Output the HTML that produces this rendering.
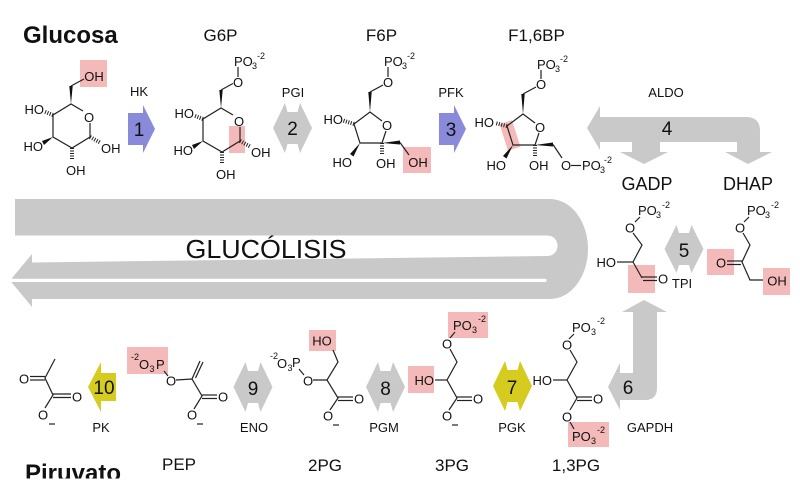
<!DOCTYPE html>
<html><head><meta charset="utf-8">
<style>
html,body{margin:0;padding:0;background:#fff;}
svg{display:block;}
text{font-family:"Liberation Sans",Arial,sans-serif;fill:#111;}
.b{stroke:#222;stroke-width:1.2;fill:none;}
.h{stroke:#222;stroke-width:4;stroke-dasharray:1 1.5;fill:none;}
.m{font-size:13px;}
.s{font-size:9px;}
.e{font-size:13px;}
.n{font-size:19px;}
.t{font-size:17px;}
</style></head><body>
<svg width="800" height="500" viewBox="0 0 800 500" xmlns="http://www.w3.org/2000/svg">
<defs><clipPath id="cp"><rect x="0" y="440" width="200" height="38.5"/></clipPath></defs>

<!-- Big U arrow -->
<path d="M15,199 H550 A38,50 0 0 1 550,299 H32 V236 H15 Z" fill="#c9c9c9"/>
<path d="M0,235.5 L547,235.5 C561,235.5 561,256 547,256 L32,262.5 L0,262.5 Z" fill="#fff"/>
<polygon points="32,254 10,280.5 32,307" fill="#c9c9c9"/>
<path d="M10,278.8 H545 A1.6,1.6 0 0 1 545,282 H10 Z" fill="#fff"/>
<text x="266" y="258" text-anchor="middle" font-size="26" textLength="161" lengthAdjust="spacingAndGlyphs">GLUCÓLISIS</text>

<!-- Titles -->
<text x="23" y="43" font-size="24" font-weight="bold">Glucosa</text>
<text class="t" x="220.5" y="41" text-anchor="middle">G6P</text>
<text class="t" x="381.5" y="41" text-anchor="middle">F6P</text>
<text class="t" x="536.5" y="41" text-anchor="middle">F1,6BP</text>
<text x="647" y="190" font-size="18" text-anchor="middle">GADP</text>
<text x="748" y="190" font-size="18" text-anchor="middle">DHAP</text>
<g clip-path="url(#cp)"><text x="25" y="481" font-size="24" font-weight="bold">Piruvato</text></g>
<text class="t" x="179" y="470" text-anchor="middle">PEP</text>
<text class="t" x="325" y="471" text-anchor="middle">2PG</text>
<text class="t" x="452" y="471" text-anchor="middle">3PG</text>
<text class="t" x="576" y="471" text-anchor="middle">1,3PG</text>

<!-- Enzyme labels -->
<text class="e" x="139" y="96" text-anchor="middle">HK</text>
<text class="e" x="293" y="97" text-anchor="middle">PGI</text>
<text class="e" x="451" y="97" text-anchor="middle">PFK</text>
<text class="e" x="666" y="97" text-anchor="middle">ALDO</text>
<text class="e" x="682" y="288" text-anchor="middle">TPI</text>
<text class="e" x="101" y="432" text-anchor="middle">PK</text>
<text class="e" x="254" y="432" text-anchor="middle">ENO</text>
<text class="e" x="384" y="432" text-anchor="middle">PGM</text>
<text class="e" x="512" y="432" text-anchor="middle">PGK</text>
<text class="e" x="650" y="432" text-anchor="middle">GAPDH</text>

<!-- Arrows -->
<path d="M128,113 H143 V105 L155,129 L143,153 V145 H128 Z" fill="#8a8ada"/>
<path d="M439,113 H454 V105 L466,129 L454,153 V145 H439 Z" fill="#8a8ada"/>
<polygon points="273,128 285,103 287.5,112 297.5,112 300,103 312,128 300,153 297.5,144 287.5,144 285,153" fill="#c9c9c9"/>
<polygon points="664.5,249 676.5,225 679,233 689,233 691.5,225 703.5,249 691.5,273 689,265 679,265 676.5,273" fill="#c9c9c9"/>
<polygon points="233.5,387 245.5,362 248,371 258,371 260.5,362 272.5,387 260.5,412 258,403 248,403 245.5,412" fill="#c9c9c9"/>
<polygon points="366,387 378,362 380.5,371 390.5,371 393,362 405,387 393,412 390.5,403 380.5,403 378,412" fill="#c9c9c9"/>
<polygon points="493,386 505,361 507.5,370 517.5,370 520,361 532,386 520,411 517.5,402 507.5,402 505,411" fill="#d6cb1f"/>
<path d="M116,373 H101 V362 L88,387 L101,412 V401 H116 Z" fill="#d6cb1f"/>
<path d="M587,128 L600,106 L600,117 L746,117 Q760,117 760,131 L760,152 L772,152 L748,164 L725,152 L737,152 L737,142 L660,142 L660,152 L668,152 L644,164 L620,152 L632,152 L632,142 L600,142 L600,150 Z" fill="#c9c9c9"/>
<path d="M644,300 L667,312 L657,312 L657,388 Q657,400 645,400 L620,400 L620,410 L608,387 L620,363 L620,373 L633,373 L633,312 L622,312 Z" fill="#c9c9c9"/>

<!-- Numbers -->
<text class="n" x="139" y="136" text-anchor="middle">1</text>
<text class="n" x="292.5" y="135" text-anchor="middle">2</text>
<text class="n" x="451" y="136" text-anchor="middle">3</text>
<text class="n" x="667" y="135" text-anchor="middle">4</text>
<text class="n" x="684" y="257" text-anchor="middle">5</text>
<text class="n" x="628" y="394" text-anchor="middle">6</text>
<text class="n" x="512" y="394" text-anchor="middle">7</text>
<text class="n" x="385.5" y="395" text-anchor="middle">8</text>
<text class="n" x="253" y="395" text-anchor="middle">9</text>
<text class="n" x="104" y="394" text-anchor="middle">10</text>

<!-- Pink highlights -->
<g fill="#f4b9b9">
<rect x="80" y="60" width="27" height="27"/>
<rect x="229" y="126" width="16" height="27"/>
<rect x="403" y="147" width="28" height="26"/>
<polygon points="499.6,124.2 512,120.2 520.4,146.8 508,150.8"/>
<rect x="628" y="265" width="27" height="28"/>
<rect x="707" y="249" width="27" height="26"/>
<rect x="763" y="268" width="27" height="27"/>
<rect x="127" y="347" width="41" height="27"/>
<rect x="309" y="330" width="27" height="21"/>
<rect x="448" y="312" width="40" height="26"/>
<rect x="408" y="366" width="26" height="27"/>
<rect x="568" y="422" width="41" height="25"/>
</g>

<!-- Glucose -->
<g>
<path class="b" d="M83,111 L71,104 L53,115 L53,137 L72,148 L90,137 L90,123"/>
<text class="m" x="89" y="122" text-anchor="middle">O</text>
<polygon points="71,104 69.3,86 72.7,86" fill="#111"/>
<line class="b" x1="71" y1="86" x2="84" y2="79"/>
<text class="m" x="94" y="81" text-anchor="middle">OH</text>
<line class="h" x1="53" y1="115" x2="44" y2="111.5"/>
<text class="m" x="44" y="114" text-anchor="end">HO</text>
<polygon points="53,137 42,141 44,145" fill="#111"/>
<text class="m" x="43" y="151" text-anchor="end">HO</text>
<line class="h" x1="72" y1="148" x2="72" y2="160"/>
<text class="m" x="66" y="175">OH</text>
<line class="h" x1="90" y1="137" x2="101" y2="143"/>
<text class="m" x="101" y="153">OH</text>
</g>

<!-- G6P -->
<g transform="translate(150,4)">
<path class="b" d="M83,111 L71,104 L53,115 L53,137 L72,148 L90,137 L90,123"/>
<text class="m" x="89" y="122" text-anchor="middle">O</text>
<polygon points="71,104 69.3,86 72.7,86" fill="#111"/>
<line class="h" x1="53" y1="115" x2="44" y2="111.5"/>
<text class="m" x="44" y="114" text-anchor="end">HO</text>
<polygon points="53,137 42,141 44,145" fill="#111"/>
<text class="m" x="43" y="151" text-anchor="end">HO</text>
<line class="h" x1="72" y1="148" x2="72" y2="160"/>
<text class="m" x="66" y="175">OH</text>
<line class="h" x1="90" y1="137" x2="101" y2="143"/>
<text class="m" x="101" y="153">OH</text>
</g>
<line class="b" x1="221" y1="90" x2="233" y2="83.5"/>
<text class="m" x="238" y="87" text-anchor="middle">O</text>
<line class="b" x1="238" y1="77" x2="238" y2="67"/>
<text class="m" x="234" y="66">PO</text><text class="s" x="252" y="69">3</text><text class="s" x="257" y="59">-2</text>

<!-- F6P -->
<path class="b" d="M382,121 L370,112 L354,124 L360,143 L382,143 L386,131"/>
<text class="m" x="387" y="130" text-anchor="middle">O</text>
<polygon points="370,112 368.3,92 371.7,92" fill="#111"/>
<line class="b" x1="370" y1="92" x2="383" y2="85"/>
<text class="m" x="388" y="87" text-anchor="middle">O</text>
<line class="b" x1="388" y1="77" x2="388" y2="67"/>
<text class="m" x="384" y="66">PO</text><text class="s" x="402" y="69">3</text><text class="s" x="407" y="59">-2</text>
<line class="h" x1="354" y1="124" x2="343" y2="120.5"/>
<text class="m" x="343" y="124" text-anchor="end">HO</text>
<polygon points="360,143 350,154 353.5,156.5" fill="#111"/>
<text class="m" x="352" y="167" text-anchor="end">HO</text>
<line class="h" x1="382" y1="143" x2="382" y2="155"/>
<text class="m" x="376" y="168">OH</text>
<polygon points="382,143 400,140.5 400,144.5" fill="#111"/>
<line class="b" x1="400" y1="142.5" x2="409" y2="155"/>
<text class="m" x="418" y="167" text-anchor="middle">OH</text>

<!-- F1,6BP -->
<path class="b" d="M535,123 L523,114 L507,126 L513,145 L535,145 L539,133"/>
<text class="m" x="540" y="132" text-anchor="middle">O</text>
<polygon points="523,114 521.3,94 524.7,94" fill="#111"/>
<line class="b" x1="523" y1="94" x2="536" y2="87"/>
<text class="m" x="541" y="89" text-anchor="middle">O</text>
<line class="b" x1="541" y1="79" x2="541" y2="70"/>
<text class="m" x="537" y="69">PO</text><text class="s" x="555" y="72">3</text><text class="s" x="560" y="62">-2</text>
<line class="h" x1="507" y1="126" x2="495" y2="123"/>
<text class="m" x="494" y="127" text-anchor="end">HO</text>
<polygon points="513,145 503,156 506.5,158.5" fill="#111"/>
<text class="m" x="506" y="170" text-anchor="end">HO</text>
<line class="h" x1="535" y1="145" x2="535" y2="157"/>
<text class="m" x="529" y="170">OH</text>
<polygon points="535,145 553,142.5 553,146.5" fill="#111"/>
<line class="b" x1="553" y1="144.5" x2="562" y2="158"/>
<text class="m" x="566" y="170" text-anchor="middle">O</text>
<line class="b" x1="571" y1="165.5" x2="581" y2="165.5"/>
<text class="m" x="582" y="170">PO</text><text class="s" x="600" y="173">3</text><text class="s" x="604" y="163">-2</text>

<!-- GADP -->
<text class="m" x="638" y="215">PO</text><text class="s" x="656" y="218">3</text><text class="s" x="662" y="208">-2</text>
<line class="b" x1="640" y1="217" x2="635" y2="222"/>
<text class="m" x="630" y="232.5" text-anchor="middle">O</text>
<path class="b" d="M633,233 L642,245 L633,262 L642,278"/>
<line class="b" x1="633" y1="262" x2="617" y2="262"/>
<text class="m" x="616" y="267" text-anchor="end">HO</text>
<line class="b" x1="642" y1="277" x2="657" y2="277"/>
<line class="b" x1="643" y1="280.5" x2="657" y2="280.5"/>
<text class="m" x="663" y="283.5" text-anchor="middle">O</text>

<!-- DHAP -->
<text class="m" x="747" y="215">PO</text><text class="s" x="765" y="218">3</text><text class="s" x="771" y="208">-2</text>
<line class="b" x1="749" y1="217" x2="744" y2="222"/>
<text class="m" x="740" y="232.5" text-anchor="middle">O</text>
<path class="b" d="M743,233 L750,245 L742,262 L750,280 L763,280"/>
<line class="b" x1="742" y1="261" x2="727" y2="261"/>
<line class="b" x1="741" y1="264.5" x2="727" y2="264.5"/>
<text class="m" x="721" y="267.5" text-anchor="middle">O</text>
<text class="m" x="777" y="285.5" text-anchor="middle">OH</text>

<!-- Pyruvate -->
<path class="b" d="M55,359 L45,378 L53,395 L45,408"/>
<line class="b" x1="45" y1="376.5" x2="30" y2="376.5"/>
<line class="b" x1="45" y1="380" x2="30" y2="380"/>
<text class="m" x="24" y="383.5" text-anchor="middle">O</text>
<line class="b" x1="53" y1="394" x2="71" y2="394"/>
<line class="b" x1="53" y1="397.5" x2="71" y2="397.5"/>
<text class="m" x="77" y="401.5" text-anchor="middle">O</text>
<text class="m" x="43" y="419.5" text-anchor="middle">O</text>
<line class="b" x1="49" y1="424" x2="55" y2="424"/>

<!-- PEP -->
<text class="s" x="131" y="360">-2</text><text class="m" x="139" y="369">O</text><text class="s" x="149.5" y="372">3</text><text class="m" x="156" y="369">P</text>
<line class="b" x1="164" y1="371" x2="168" y2="376"/>
<text class="m" x="171" y="385.5" text-anchor="middle">O</text>
<path class="b" d="M176,380 L192,379 L202,396 L194,409"/>
<line class="b" x1="192" y1="379" x2="200" y2="361"/>
<line class="b" x1="195.5" y1="378" x2="203" y2="362"/>
<line class="b" x1="202" y1="395" x2="217" y2="395"/>
<line class="b" x1="202" y1="398.5" x2="217" y2="398.5"/>
<text class="m" x="223" y="401.5" text-anchor="middle">O</text>
<text class="m" x="192" y="419.5" text-anchor="middle">O</text>
<line class="b" x1="197" y1="424" x2="203" y2="424"/>

<!-- 2PG -->
<text class="s" x="270" y="359">-2</text><text class="m" x="277" y="368">O</text><text class="s" x="287.5" y="371">3</text><text class="m" x="292" y="367">P</text>
<line class="b" x1="299" y1="369" x2="304" y2="375"/>
<text class="m" x="308" y="385.5" text-anchor="middle">O</text>
<path class="b" d="M313,380 L327,380 L338,362 L333,350"/>
<text class="m" x="322" y="345.5" text-anchor="middle">HO</text>
<path class="b" d="M327,380 L338,398 L330,410"/>
<line class="b" x1="338" y1="397" x2="353" y2="397"/>
<line class="b" x1="338" y1="400.5" x2="353" y2="400.5"/>
<text class="m" x="359" y="403.5" text-anchor="middle">O</text>
<text class="m" x="328" y="420.5" text-anchor="middle">O</text>
<line class="b" x1="333" y1="425" x2="339" y2="425"/>

<!-- 3PG -->
<text class="m" x="453" y="330">PO</text><text class="s" x="472" y="333">3</text><text class="s" x="478" y="322">-2</text>
<line class="b" x1="455" y1="332" x2="450" y2="338"/>
<text class="m" x="447" y="348.5" text-anchor="middle">O</text>
<path class="b" d="M450,349 L457,362 L447,380 L457,398 L449,410"/>
<line class="b" x1="447" y1="380" x2="435" y2="380"/>
<text class="m" x="434" y="385" text-anchor="end">HO</text>
<line class="b" x1="457" y1="397" x2="472" y2="397"/>
<line class="b" x1="457" y1="400.5" x2="472" y2="400.5"/>
<text class="m" x="478" y="403.5" text-anchor="middle">O</text>
<text class="m" x="447" y="420.5" text-anchor="middle">O</text>
<line class="b" x1="452" y1="425" x2="458" y2="425"/>

<!-- 1,3PG -->
<text class="m" x="572" y="332">PO</text><text class="s" x="591" y="335">3</text><text class="s" x="597" y="324">-2</text>
<line class="b" x1="574" y1="334" x2="569" y2="339"/>
<text class="m" x="567" y="349.5" text-anchor="middle">O</text>
<path class="b" d="M570,350 L577,362 L567,380 L577,398 L570,410"/>
<line class="b" x1="567" y1="380" x2="553" y2="380"/>
<text class="m" x="552" y="385" text-anchor="end">HO</text>
<line class="b" x1="577" y1="397" x2="592" y2="397"/>
<line class="b" x1="577" y1="400.5" x2="592" y2="400.5"/>
<text class="m" x="598" y="403.5" text-anchor="middle">O</text>
<text class="m" x="567" y="421.5" text-anchor="middle">O</text>
<line class="b" x1="570" y1="422" x2="574" y2="429"/>
<text class="m" x="572" y="441">PO</text><text class="s" x="591" y="444">3</text><text class="s" x="597" y="433">-2</text>
</svg>
</body></html>
